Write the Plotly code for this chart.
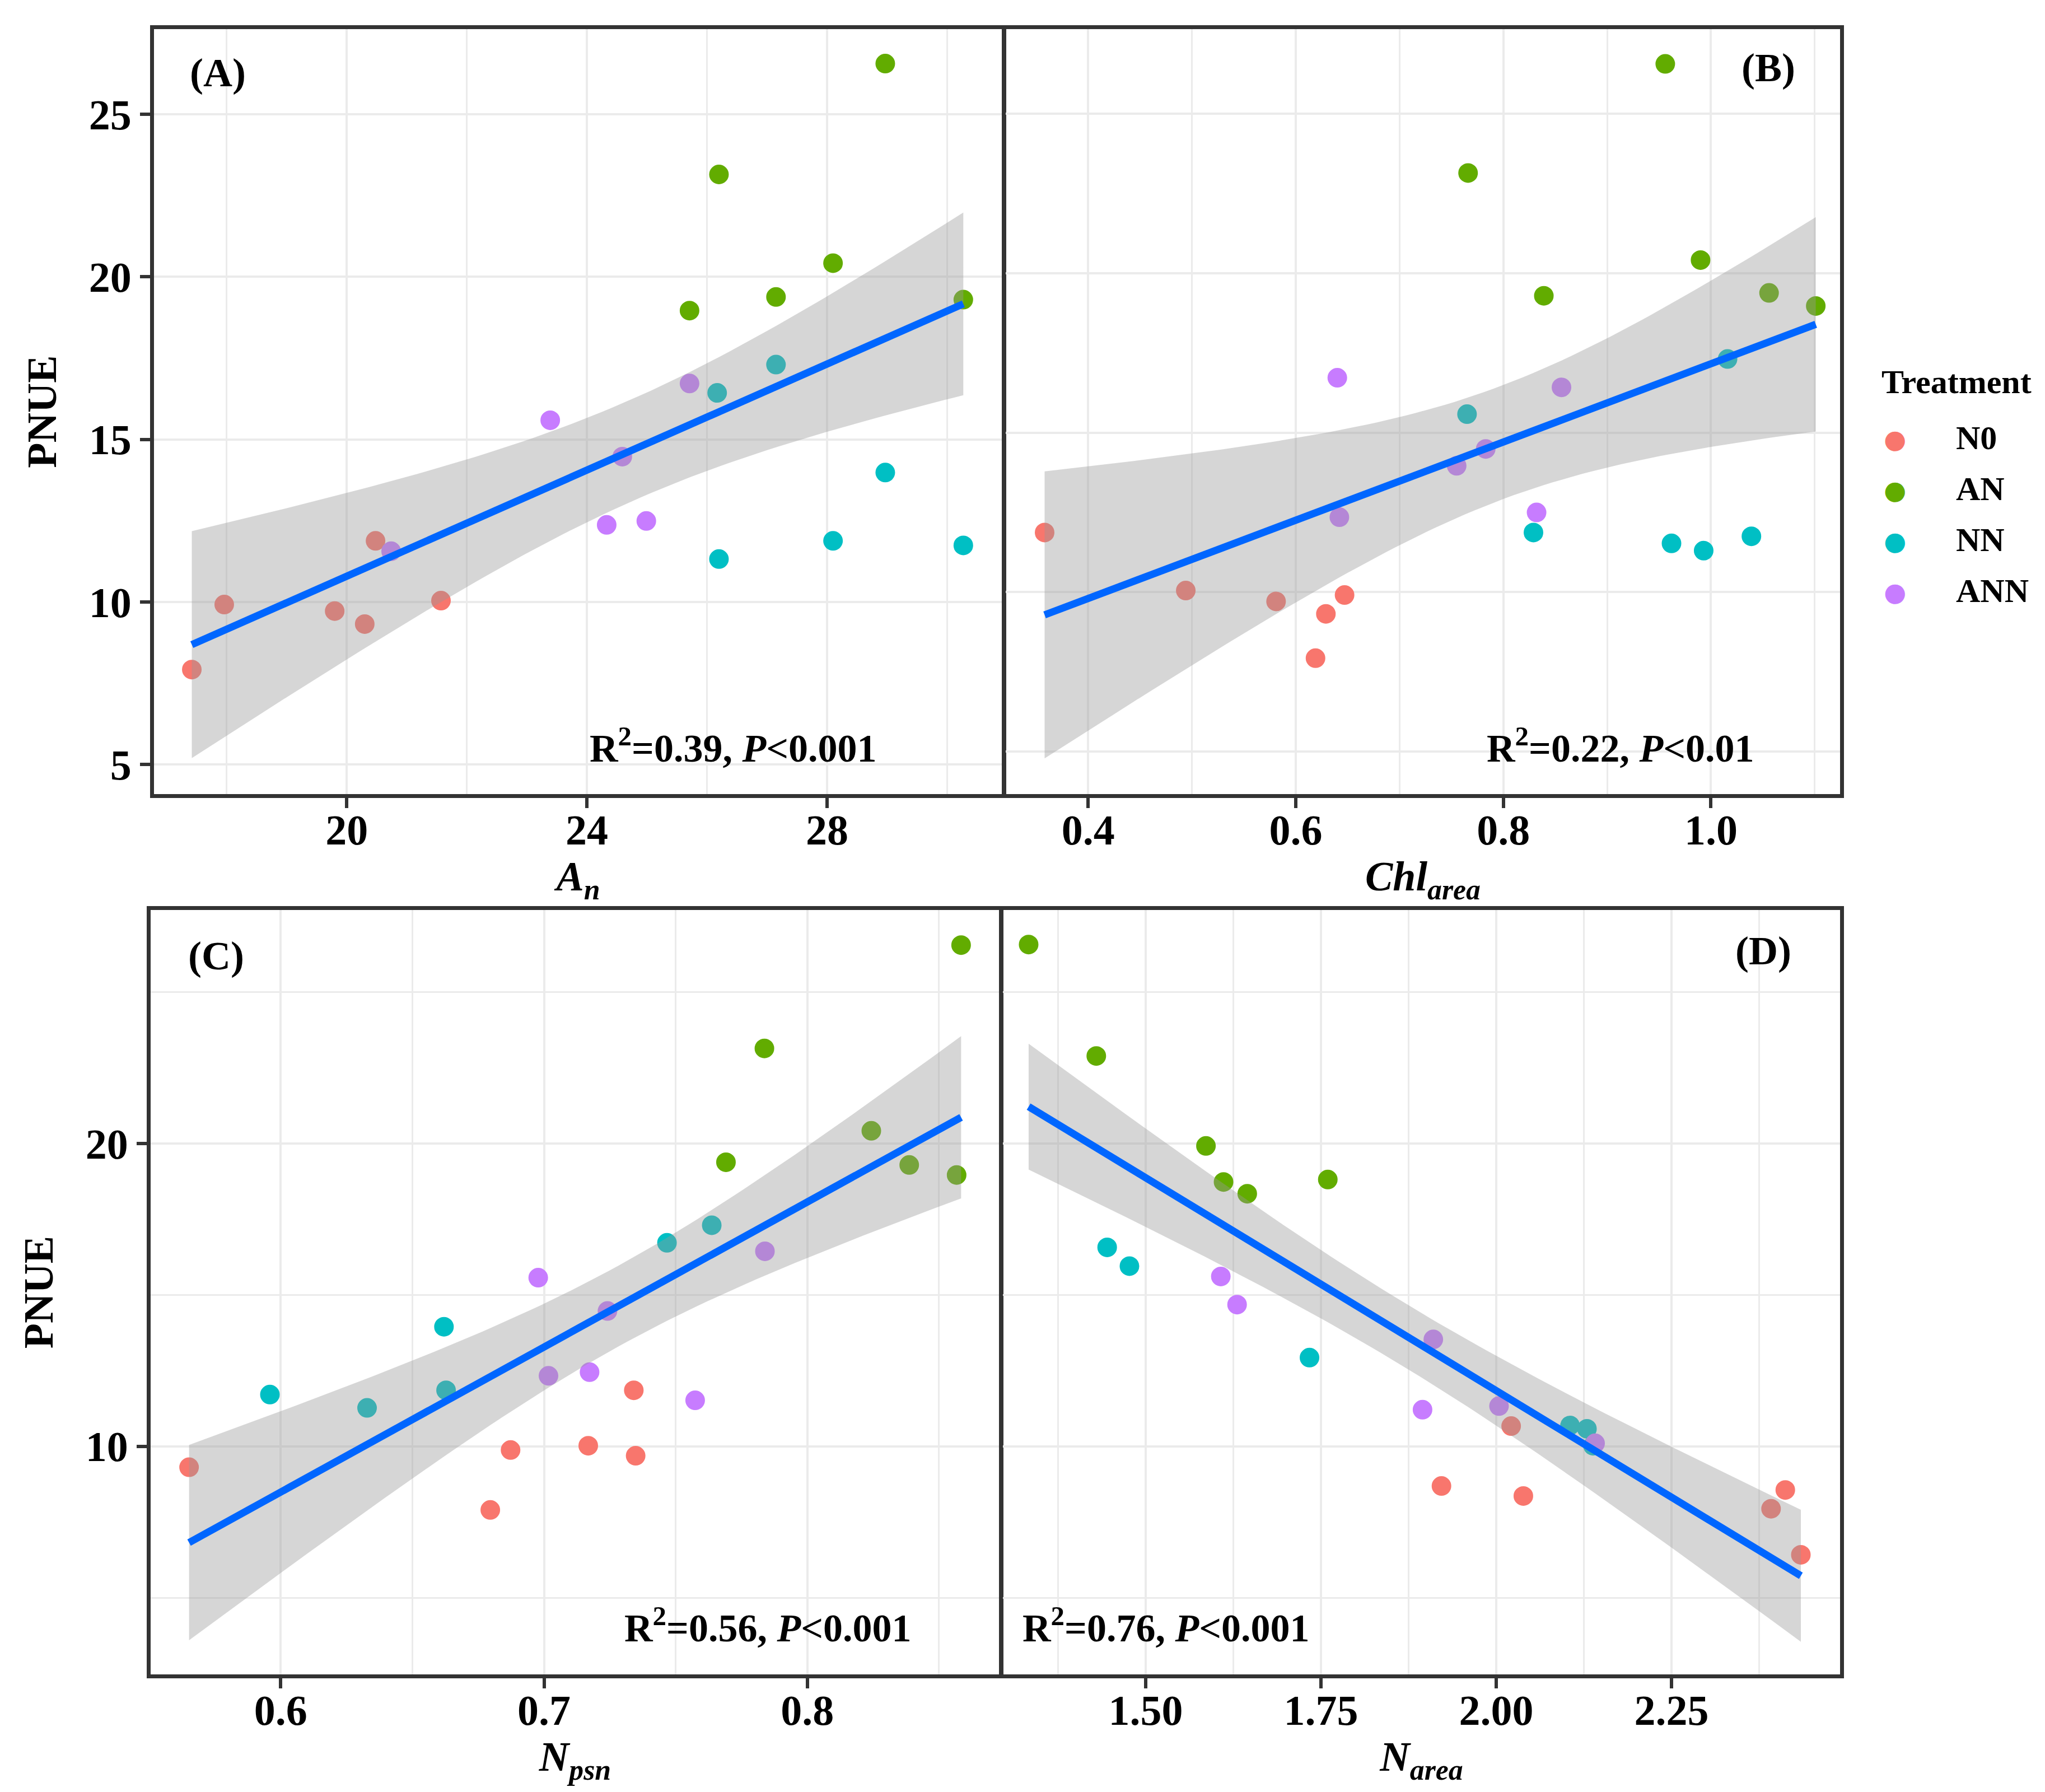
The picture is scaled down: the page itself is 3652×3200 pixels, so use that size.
import numpy as np
import plotly.graph_objects as go

W, H = 3652, 3200
FONT = "Liberation Serif"

treatments = ["N0", "AN", "NN", "ANN"]
colors = {"N0": "#F8766D", "AN": "#62AC00", "NN": "#00BFC4", "ANN": "#C77CFF"}
group = ["N0"] * 6 + ["AN"] * 6 + ["NN"] * 6 + ["ANN"] * 6

# (A) PNUE vs An
an = [17.42, 17.96, 19.80, 20.30, 20.48, 21.57,
      28.97, 26.20, 28.10, 27.15, 25.71, 30.27,
      27.15, 26.17, 28.97, 28.10, 26.20, 30.27,
      20.74, 23.39, 24.59, 25.71, 24.33, 24.99]
pnue_a = [7.92, 9.92, 9.72, 9.32, 11.88, 10.04,
          26.56, 23.15, 20.42, 19.38, 18.96, 19.30,
          17.30, 16.43, 13.98, 11.88, 11.32, 11.74,
          11.56, 15.59, 14.47, 16.72, 12.37, 12.49]

# (B) PNUE vs Chl area
chl_area = [0.358, 0.494, 0.581, 0.629, 0.619, 0.647,
            0.956, 0.766, 0.990, 0.839, 1.056, 1.101,
            1.016, 0.765, 0.829, 0.962, 0.993, 1.039,
            0.640, 0.642, 0.755, 0.783, 0.832, 0.856]
pnue_b = [11.87, 10.05, 9.71, 9.32, 7.93, 9.91,
          26.56, 23.14, 20.41, 19.29, 19.38, 18.97,
          17.31, 15.58, 11.87, 11.53, 11.30, 11.75,
          16.72, 12.35, 13.96, 14.49, 12.50, 16.42]

# (C) PNUE vs Npsn
n_psn = [0.5652, 0.6796, 0.6873, 0.7168, 0.7341, 0.7348,
         0.8584, 0.7837, 0.8243, 0.7691, 0.8387, 0.8567,
         0.5959, 0.6328, 0.6620, 0.6628, 0.7467, 0.7637,
         0.6978, 0.7241, 0.7017, 0.7173, 0.7574, 0.7839]
pnue_c = [9.31, 7.90, 9.88, 10.02, 11.85, 9.69,
          26.55, 23.14, 20.42, 19.38, 19.29, 18.96,
          11.71, 11.27, 13.95, 11.85, 16.72, 17.30,
          15.57, 14.47, 12.33, 12.45, 11.52, 16.44]

# (D) PNUE vs N area
n_area = [1.9218, 2.0386, 2.0212, 2.4122, 2.3919, 2.4344,
          1.3330, 1.4295, 1.5859, 1.6110, 1.6448, 1.7597,
          1.4450, 1.4768, 1.7336, 2.1052, 2.1293, 2.1380,
          1.6071, 1.6303, 1.9102, 1.8948, 2.0039, 2.1409]
pnue_d = [8.69, 8.36, 10.67, 8.56, 7.94, 6.42,
          26.57, 22.89, 19.92, 18.73, 18.34, 18.81,
          16.57, 15.95, 12.93, 10.69, 10.58, 10.02,
          15.61, 14.68, 13.53, 11.21, 11.33, 10.10]

stats_text = ["0.39", "0.22", "0.56", "0.76"]
p_text = ["0.001", "0.01", "0.001", "0.001"]


def px(x):
    return x / W


def py(y):
    return 1 - y / H


def lm_band(x, y, n_out=80):
    # same as geom_smooth(method = "lm"), 95% band
    x = np.asarray(x, dtype=float)
    y = np.asarray(y, dtype=float)
    slope, icpt = np.polyfit(x, y, 1)
    resid = y - (icpt + slope * x)
    s = np.sqrt(np.sum(resid ** 2) / (len(x) - 2))
    xs = np.linspace(x.min(), x.max(), n_out)
    fit = icpt + slope * xs
    se = s * np.sqrt(1 / len(x) + (xs - x.mean()) ** 2 / np.sum((x - x.mean()) ** 2))
    t = 2.0739  # qt(0.975, df = 22)
    return xs, fit, fit - t * se, fit + t * se


panels = [
    dict(x=an, y=pnue_a, xa="x", ya="y", label="(A)", title="<i>A<sub>n</sub></i>",
         xdom=(267, 1782), ydom=(44, 1410), xrange=[16.79, 30.92], yrange=[4.09, 27.62],
         xdtick=4, xminor=2, xfmt="", ydtick=5, yminor=None, ylabels=True,
         lab_pos=(381, 122), r2_pos=(1560, 1323, "right")),
    dict(x=chl_area, y=pnue_b, xa="x2", ya="y2", label="(B)", title="<i>Chl<sub>area</sub></i>",
         xdom=(1788, 3278), ydom=(44, 1410), xrange=[0.3205, 1.1244], yrange=[3.67, 27.65],
         xdtick=0.2, xminor=0.1, xfmt=".1f", ydtick=5, yminor=None, ylabels=False,
         lab_pos=(3150, 113), r2_pos=(3127, 1323, "right")),
    dict(x=n_psn, y=pnue_c, xa="x3", ya="y3", label="(C)", title="<i>N<sub>psn</sub></i>",
         xdom=(261, 1777), ydom=(1617, 2982), xrange=[0.5506, 0.8730], yrange=[2.47, 27.71],
         xdtick=0.1, xminor=0.05, xfmt=".1f", ydtick=10, yminor=5, ylabels=True,
         lab_pos=(378, 1699), r2_pos=(1622, 2894, "right")),
    dict(x=n_area, y=pnue_d, xa="x4", ya="y4", label="(D)", title="<i>N<sub>area</sub></i>",
         xdom=(1783, 3278), ydom=(1617, 2982), xrange=[1.2963, 2.4903], yrange=[2.47, 27.71],
         xdtick=0.25, xminor=0.125, xfmt=".2f", ydtick=10, yminor=5, ylabels=False,
         lab_pos=(3141, 1690), r2_pos=(1816, 2894, "left")),
]

fig = go.Figure()
tick_font = dict(family=FONT, size=76, color="black", weight="bold")
title_font = dict(family=FONT, size=74, color="black", weight="bold")
axis_style = dict(showline=True, mirror=True, linecolor="#333333", linewidth=7, zeroline=False,
                  gridcolor="#EBEBEB", gridwidth=4, ticks="outside", ticklen=18, tickwidth=6,
                  tickcolor="#333333", tickfont=tick_font, tickmode="linear", tick0=0)
annotations = []

for i, p in enumerate(panels):
    for trt in treatments:
        xs = [v for v, g in zip(p["x"], group) if g == trt]
        ys = [v for v, g in zip(p["y"], group) if g == trt]
        fig.add_trace(go.Scatter(
            x=xs, y=ys, mode="markers", name=trt, legendgroup=trt, showlegend=False,
            xaxis=p["xa"], yaxis=p["ya"],
            marker=dict(size=30, color=colors[trt], line=dict(width=5, color=colors[trt]))))

    bx, fit, lo, hi = lm_band(p["x"], p["y"])
    fig.add_trace(go.Scatter(x=bx, y=lo, mode="lines", line=dict(width=0), showlegend=False,
                             hoverinfo="skip", xaxis=p["xa"], yaxis=p["ya"]))
    fig.add_trace(go.Scatter(x=bx, y=hi, mode="lines", line=dict(width=0), fill="tonexty",
                             fillcolor="rgba(153,153,153,0.4)", showlegend=False,
                             hoverinfo="skip", xaxis=p["xa"], yaxis=p["ya"]))
    fig.add_trace(go.Scatter(x=bx, y=fit, mode="lines", line=dict(width=13, color="#0066FF"),
                             showlegend=False, xaxis=p["xa"], yaxis=p["ya"]))

    xkey = "xaxis" + p["xa"][1:]
    ykey = "yaxis" + p["ya"][1:]
    xaxis = dict(axis_style, domain=[px(p["xdom"][0]), px(p["xdom"][1])], anchor=p["ya"],
                 range=p["xrange"], dtick=p["xdtick"], tickformat=p["xfmt"], ticklabelstandoff=-26,
                 minor=dict(dtick=p["xminor"], tick0=0, showgrid=True, gridcolor="#EBEBEB", gridwidth=2.5),
                 title=dict(text=p["title"], font=title_font, standoff=14))
    yaxis = dict(axis_style, domain=[py(p["ydom"][1]), py(p["ydom"][0])], anchor=p["xa"],
                 range=p["yrange"], dtick=p["ydtick"])
    if p["yminor"]:
        yaxis["minor"] = dict(dtick=p["yminor"], tick0=0, showgrid=True, gridcolor="#EBEBEB", gridwidth=3)
    if p["ylabels"]:
        yaxis["title"] = dict(text="PNUE", font=title_font, standoff=36)
    else:
        yaxis["showticklabels"] = False
        yaxis["ticks"] = ""
    fig.update_layout({xkey: xaxis, ykey: yaxis})

    lx, ly = p["lab_pos"]
    annotations.append(dict(text="<b>" + p["label"] + "</b>", x=px(lx), y=py(ly), xref="paper", yref="paper",
                            xanchor="center", yanchor="middle", showarrow=False,
                            font=dict(family=FONT, size=72, color="black")))
    rx, ry, anchor = p["r2_pos"]
    annotations.append(dict(
        text="<b>R<sup>2</sup>=" + stats_text[i] + ", <i>P</i>&lt;" + p_text[i] + "</b>",
        x=px(rx), y=py(ry), xref="paper", yref="paper", xanchor=anchor, yanchor="middle",
        showarrow=False, font=dict(family=FONT, size=70, color="black")))

# legend drawn at the right, ggplot style
annotations.append(dict(text="<b>Treatment</b>", x=px(3350), y=py(674), xref="paper", yref="paper",
                        xanchor="left", yanchor="middle", showarrow=False,
                        font=dict(family=FONT, size=60, color="black")))
for k, trt in enumerate(treatments):
    row_y = 774 + k * 91
    annotations.append(dict(text="\u25CF", x=px(3376), y=py(row_y + 2), xref="paper", yref="paper",
                            xanchor="center", yanchor="middle", showarrow=False,
                            font=dict(family="DejaVu Sans", size=46, color=colors[trt])))
    annotations.append(dict(text="<b>" + trt + "</b>", x=px(3483), y=py(row_y), xref="paper", yref="paper",
                            xanchor="left", yanchor="middle", showarrow=False,
                            font=dict(family=FONT, size=60, color="black")))

fig.update_layout(
    width=W, height=H,
    margin=dict(l=0, r=0, t=0, b=0),
    paper_bgcolor="white", plot_bgcolor="white",
    font=dict(family=FONT, color="black"),
    annotations=annotations,
    showlegend=False,
)

fig.write_html("out.html")
